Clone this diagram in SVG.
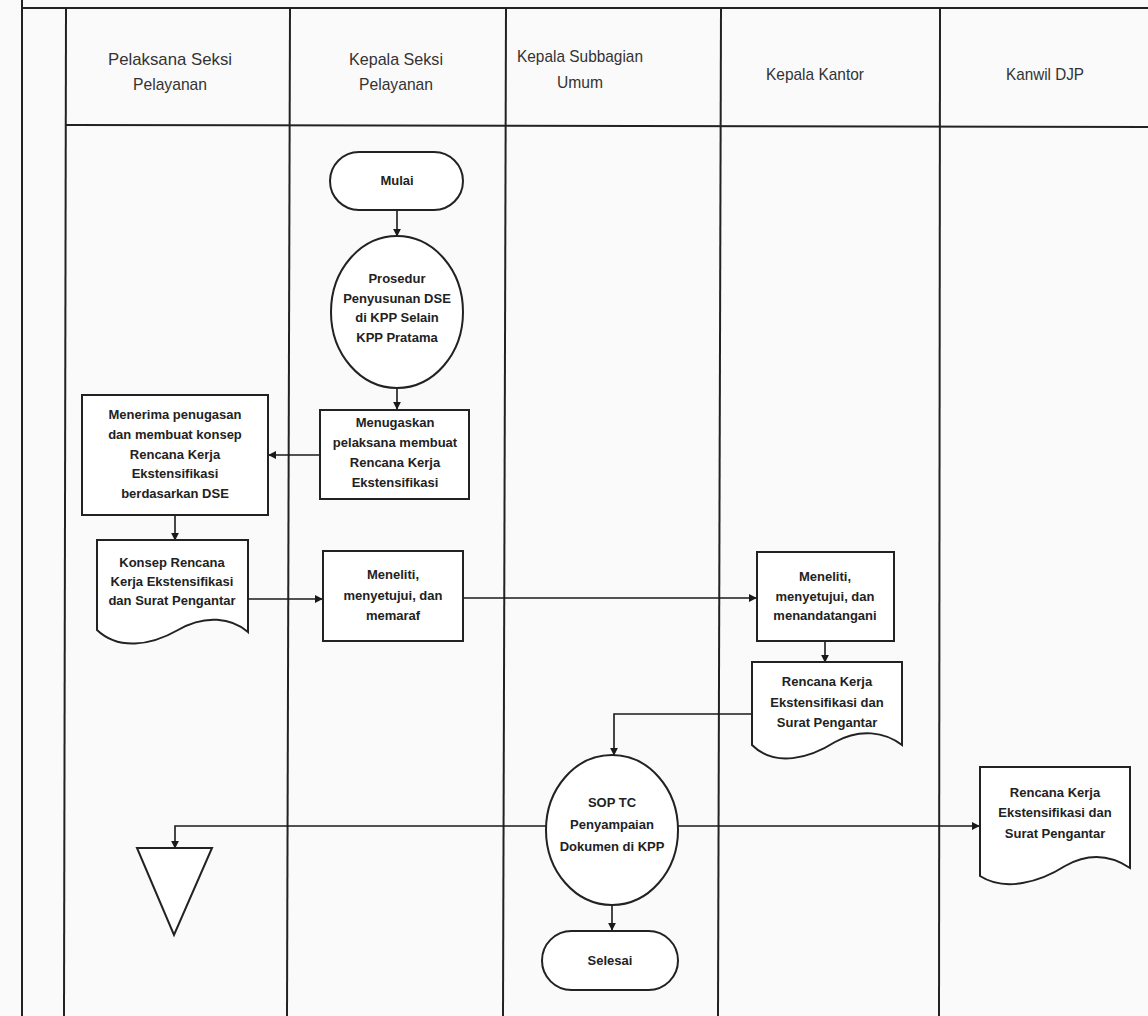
<svg xmlns="http://www.w3.org/2000/svg" width="1148" height="1016" viewBox="0 0 1148 1016">
<defs>
<marker id="ah" viewBox="0 0 10 10" refX="9" refY="5" markerWidth="8" markerHeight="8" markerUnits="userSpaceOnUse" orient="auto"><path d="M0,0 L10,5 L0,10 Z" fill="#1a1a1a"/></marker>
<style>
.frame{stroke:#222;stroke-width:2;fill:none}
.hd{font-family:"Liberation Sans",Arial,sans-serif;font-size:17px;fill:#333;text-anchor:middle}
.sh{fill:#fff;stroke:#222;stroke-width:2}
.tx{font-family:"Liberation Sans",Arial,sans-serif;font-size:13px;font-weight:bold;fill:#222;text-anchor:middle}
.cn{stroke:#1a1a1a;stroke-width:1.6;fill:none;marker-end:url(#ah)}
</style>
</defs>
<rect width="1148" height="1016" fill="#fafafa"/>
<g id="frame">
<line class="frame" x1="22" y1="0" x2="22" y2="1016"/>
<line class="frame" x1="22" y1="8" x2="1148" y2="8"/>
<line class="frame" x1="66" y1="8" x2="64" y2="1016"/>
<line class="frame" x1="290" y1="8" x2="287" y2="1016"/>
<line class="frame" x1="506" y1="8" x2="503" y2="1016"/>
<line class="frame" x1="721" y1="8" x2="718" y2="1016"/>
<line class="frame" x1="940" y1="8" x2="939" y2="1016"/>
<line class="frame" x1="66" y1="125" x2="1148" y2="127"/>
<text class="hd" x="170" y="65" textLength="124" lengthAdjust="spacingAndGlyphs">Pelaksana Seksi</text>
<text class="hd" x="170" y="90" textLength="74" lengthAdjust="spacingAndGlyphs">Pelayanan</text>
<text class="hd" x="396" y="65" textLength="94" lengthAdjust="spacingAndGlyphs">Kepala Seksi</text>
<text class="hd" x="396" y="90" textLength="74" lengthAdjust="spacingAndGlyphs">Pelayanan</text>
<text class="hd" x="580" y="62" textLength="126" lengthAdjust="spacingAndGlyphs">Kepala Subbagian</text>
<text class="hd" x="580" y="88" textLength="46" lengthAdjust="spacingAndGlyphs">Umum</text>
<text class="hd" x="815" y="80" textLength="98" lengthAdjust="spacingAndGlyphs">Kepala Kantor</text>
<text class="hd" x="1045" y="80" textLength="78" lengthAdjust="spacingAndGlyphs">Kanwil DJP</text>
</g>
<g id="connectors">
<line class="cn" x1="397" y1="210" x2="397" y2="236"/>
<line class="cn" x1="397" y1="388" x2="397" y2="409"/>
<line class="cn" x1="320" y1="455" x2="269" y2="455"/>
<line class="cn" x1="175" y1="515" x2="175" y2="540"/>
<line class="cn" x1="248" y1="599" x2="322" y2="599"/>
<line class="cn" x1="463" y1="598" x2="756" y2="598"/>
<line class="cn" x1="825" y1="641" x2="825" y2="662"/>
<polyline class="cn" points="752,714 614,714 614,755"/>
<line class="cn" x1="612" y1="905" x2="612" y2="930"/>
<polyline class="cn" points="546,826 175,826 175,848"/>
<line class="cn" x1="678" y1="826" x2="979" y2="826"/>
</g>
<g id="n-mulai">
<rect class="sh" x="330" y="152" width="133" height="58" rx="29"/>
<text class="tx" x="397" y="185">Mulai</text>
</g>
<g id="n-prosedur">
<ellipse class="sh" cx="397" cy="312" rx="66" ry="76"/>
<text class="tx" x="397" y="283">Prosedur</text>
<text class="tx" x="397" y="303">Penyusunan DSE</text>
<text class="tx" x="397" y="322">di KPP Selain</text>
<text class="tx" x="397" y="342">KPP Pratama</text>
</g>
<g id="n-menugaskan">
<rect class="sh" x="320" y="410" width="149" height="89"/>
<text class="tx" x="395" y="427">Menugaskan</text>
<text class="tx" x="395" y="447">pelaksana membuat</text>
<text class="tx" x="395" y="467">Rencana Kerja</text>
<text class="tx" x="395" y="487">Ekstensifikasi</text>
</g>
<g id="n-menerima">
<rect class="sh" x="82" y="395" width="186" height="120"/>
<text class="tx" x="175" y="419">Menerima penugasan</text>
<text class="tx" x="175" y="439">dan membuat konsep</text>
<text class="tx" x="175" y="459">Rencana Kerja</text>
<text class="tx" x="175" y="478">Ekstensifikasi</text>
<text class="tx" x="175" y="498">berdasarkan DSE</text>
</g>
<g id="n-konsep">
<path class="sh" d="M97,540 H248 V632 C232,618 205,614 178,630 C150,646 118,650 97,630 Z"/>
<text class="tx" x="172" y="567">Konsep Rencana</text>
<text class="tx" x="172" y="586">Kerja Ekstensifikasi</text>
<text class="tx" x="172" y="605">dan Surat Pengantar</text>
</g>
<g id="n-memaraf">
<rect class="sh" x="323" y="551" width="140" height="90"/>
<text class="tx" x="393" y="579">Meneliti,</text>
<text class="tx" x="393" y="600">menyetujui, dan</text>
<text class="tx" x="393" y="620">memaraf</text>
</g>
<g id="n-menandatangani">
<rect class="sh" x="757" y="552" width="137" height="89"/>
<text class="tx" x="825" y="581">Meneliti,</text>
<text class="tx" x="825" y="601">menyetujui, dan</text>
<text class="tx" x="825" y="620">menandatangani</text>
</g>
<g id="n-rencana">
<path class="sh" d="M752,662 H902 V745 C885,732 860,728 835,742 C810,758 775,768 752,745 Z"/>
<text class="tx" x="827" y="686">Rencana Kerja</text>
<text class="tx" x="827" y="707">Ekstensifikasi dan</text>
<text class="tx" x="827" y="727">Surat Pengantar</text>
</g>
<g id="n-sop">
<ellipse class="sh" cx="612" cy="830" rx="66" ry="75"/>
<text class="tx" x="612" y="807">SOP TC</text>
<text class="tx" x="612" y="829">Penyampaian</text>
<text class="tx" x="612" y="851">Dokumen di KPP</text>
</g>
<g id="n-selesai">
<rect class="sh" x="542" y="931" width="136" height="59" rx="29.5"/>
<text class="tx" x="610" y="965">Selesai</text>
</g>
<g id="n-arsip">
<polygon class="sh" points="137,848 212,848 174,935"/>
</g>
<g id="n-kanwil">
<path class="sh" d="M980,767 H1130 V868 C1112,856 1090,852 1065,866 C1040,882 1005,892 980,876 Z"/>
<text class="tx" x="1055" y="797">Rencana Kerja</text>
<text class="tx" x="1055" y="817">Ekstensifikasi dan</text>
<text class="tx" x="1055" y="838">Surat Pengantar</text>
</g>
</svg>
